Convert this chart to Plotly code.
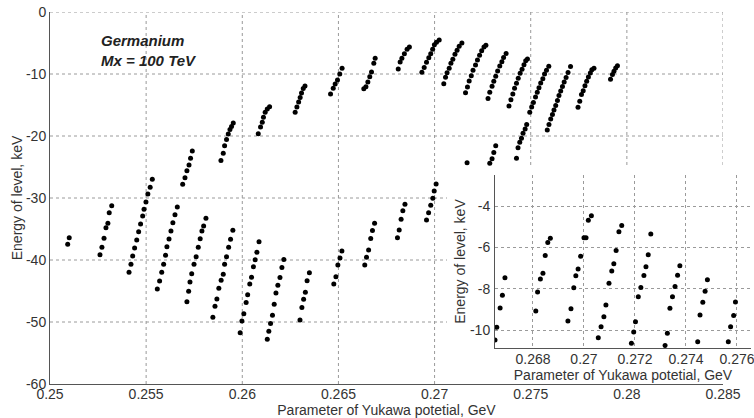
import plotly.graph_objects as go

# ---------------- main panel: visible level bands (x: GeV, y: keV) ----------------
a_x = [0.25092, 0.25100]
a_y = [-37.47, -36.40]
b_x = [0.25260, 0.25270, 0.25281, 0.25291, 0.25301, 0.25308, 0.25321]
b_y = [-39.15, -37.95, -36.50, -34.79, -34.08, -32.37, -31.24]
c_x = [0.25411, 0.25421, 0.25430, 0.25440, 0.25451, 0.25461, 0.25471, 0.25482, 0.25489, 0.25499, 0.25509, 0.25521, 0.25532]
c_y = [-41.98, -40.69, -39.35, -38.06, -36.77, -35.44, -34.19, -32.90, -31.82, -30.65, -29.35, -28.27, -26.98]
d_x = [0.25558, 0.25570, 0.25581, 0.25591, 0.25601, 0.25608, 0.25619, 0.25629, 0.25639, 0.25650, 0.25662]
d_y = [-44.68, -43.39, -41.98, -40.69, -39.24, -37.85, -36.61, -35.32, -33.98, -32.69, -31.45]
e_x = [0.25690, 0.25702, 0.25712, 0.25723, 0.25731, 0.25740]
e_y = [-27.79, -26.73, -25.60, -24.68, -23.60, -22.42]
f_x = [0.25712, 0.25721, 0.25728, 0.25737, 0.25749, 0.25760, 0.25771, 0.25781, 0.25790, 0.25799, 0.25811]
f_y = [-46.73, -45.05, -43.55, -42.21, -40.69, -39.47, -37.95, -36.56, -35.32, -34.52, -33.27]
g_x = [0.25889, 0.25901, 0.25908, 0.25918, 0.25927, 0.25936, 0.25944, 0.25953]
g_y = [-23.95, -22.79, -21.56, -20.56, -19.68, -18.95, -18.47, -17.90]
h_x = [0.25847, 0.25858, 0.25868, 0.25878, 0.25890, 0.25901, 0.25908, 0.25918, 0.25929, 0.25939, 0.25951]
h_y = [-49.23, -47.45, -46.29, -44.55, -43.27, -42.29, -40.69, -39.48, -37.95, -36.65, -35.21]
i_x = [0.26083, 0.26095, 0.26104, 0.26110, 0.26119, 0.26130, 0.26142]
i_y = [-19.63, -18.55, -17.79, -16.98, -16.18, -15.65, -15.27]
j_x = [0.25989, 0.25998, 0.26008, 0.26020, 0.26028, 0.26039, 0.26048, 0.26058, 0.26067, 0.26076, 0.26087]
j_y = [-51.73, -49.84, -48.66, -46.85, -45.60, -43.87, -42.77, -41.08, -39.97, -38.74, -37.05]
k_x = [0.26275, 0.26284, 0.26293, 0.26301, 0.26308, 0.26317, 0.26326]
k_y = [-16.18, -15.32, -14.52, -13.79, -13.06, -12.34, -11.94]
l_x = [0.26130, 0.26138, 0.26147, 0.26157, 0.26166, 0.26175, 0.26185, 0.26196, 0.26206, 0.26216]
l_y = [-52.79, -51.50, -50.24, -48.90, -47.15, -45.32, -44.08, -42.82, -41.21, -39.92]
m_x = [0.26300, 0.26310, 0.26319, 0.26328, 0.26337, 0.26349]
m_y = [-49.68, -47.66, -46.34, -45.19, -43.34, -42.06]
n_x = [0.26459, 0.26473, 0.26483, 0.26495, 0.26507, 0.26519]
n_y = [-13.23, -12.31, -11.61, -10.97, -10.00, -9.08]
o_x = [0.26632, 0.26643, 0.26653, 0.26663, 0.26672, 0.26684, 0.26691]
o_y = [-12.37, -12.05, -11.29, -10.44, -9.68, -8.27, -7.47]
p_x = [0.26811, 0.26821, 0.26830, 0.26843, 0.26857, 0.26869]
p_y = [-9.19, -8.06, -7.47, -6.74, -6.00, -5.65]
q_x = [0.26934, 0.26946, 0.26958, 0.26970, 0.26980, 0.26990, 0.26999, 0.27010, 0.27024]
q_y = [-9.71, -8.95, -8.10, -7.39, -6.74, -6.00, -5.27, -4.87, -4.52]
r_x = [0.27048, 0.27057, 0.27065, 0.27076, 0.27085, 0.27095, 0.27106, 0.27117, 0.27128, 0.27142]
r_y = [-11.56, -10.53, -9.79, -9.08, -8.27, -7.61, -6.82, -6.18, -5.53, -5.00]
s_x = [0.27161, 0.27171, 0.27180, 0.27191, 0.27200, 0.27213, 0.27223, 0.27234, 0.27245, 0.27257, 0.27267]
s_y = [-13.02, -12.10, -11.13, -10.29, -9.40, -8.55, -7.74, -6.97, -6.26, -5.65, -5.35]
t_x = [0.27278, 0.27287, 0.27299, 0.27308, 0.27318, 0.27328, 0.27339, 0.27350, 0.27359, 0.27372]
t_y = [-13.95, -12.94, -11.98, -11.16, -10.37, -9.52, -8.71, -8.02, -7.34, -6.69]
u_x = [0.27387, 0.27397, 0.27407, 0.27416, 0.27426, 0.27435, 0.27445, 0.27455, 0.27465, 0.27474, 0.27483]
u_y = [-15.16, -14.15, -13.23, -12.31, -11.50, -10.69, -9.89, -9.23, -8.50, -7.87, -7.58]
v_x = [0.27426, 0.27434, 0.27443, 0.27452, 0.27460, 0.27471, 0.27479, 0.27495, 0.27505, 0.27514,
       0.27525, 0.27534, 0.27543, 0.27552, 0.27563, 0.27572, 0.27582, 0.27594]
v_y = [-23.60, -21.89, -21.02, -20.37, -19.56, -18.87, -18.15, -16.16, -15.32, -14.60,
       -13.71, -12.94, -12.23, -11.45, -10.76, -10.00, -9.39, -8.76]
w_x = [0.27586, 0.27595, 0.27604, 0.27613, 0.27621, 0.27630, 0.27639, 0.27647, 0.27656, 0.27665, 0.27674, 0.27684, 0.27694, 0.27707]
w_y = [-19.03, -18.15, -17.26, -16.53, -15.81, -15.08, -14.27, -13.47, -12.74, -12.02, -11.29, -10.56, -9.76, -8.79]
y_x = [0.27746, 0.27755, 0.27764, 0.27773, 0.27782, 0.27791, 0.27800, 0.27810, 0.27818, 0.27829]
y_y = [-15.37, -14.39, -13.31, -12.71, -11.90, -11.18, -10.48, -9.84, -9.31, -9.08]
z_x = [0.27915, 0.27925, 0.27933, 0.27942, 0.27951]
z_y = [-10.85, -10.08, -9.56, -9.03, -8.66]
lone_x = [0.27169]
lone_y = [-24.31]
low1_x = [0.27287, 0.27299, 0.27308, 0.27318]
low1_y = [-24.40, -23.68, -22.66, -21.56]
x1_x = [0.26476, 0.26487, 0.26497, 0.26508, 0.26518]
x1_y = [-43.87, -42.69, -40.81, -39.69, -38.55]
x2_x = [0.26637, 0.26646, 0.26657, 0.26668, 0.26677, 0.26688]
x2_y = [-40.81, -39.56, -38.39, -36.53, -35.24, -34.08]
x3_x = [0.26807, 0.26816, 0.26826, 0.26835, 0.26846]
x3_y = [-36.40, -35.16, -33.42, -32.06, -31.02]
x4_x = [0.26958, 0.26969, 0.26980, 0.26991, 0.26998, 0.27008]
x4_y = [-33.55, -32.37, -31.18, -30.05, -28.88, -27.74]

# ---------------- inset panel (zoom of the upper arc) ----------------
i1_x = [0.26651, 0.26658, 0.26671, 0.26680, 0.26690]
i1_y = [-10.48, -9.87, -8.93, -8.32, -7.47]
i2_x = [0.26811, 0.26818, 0.26829, 0.26839, 0.26848, 0.26858, 0.26868]
i2_y = [-9.08, -8.16, -7.53, -7.25, -6.39, -5.77, -5.56]
i3_x = [0.26937, 0.26949, 0.26960, 0.26968, 0.26977, 0.26987, 0.27000, 0.27008, 0.27017, 0.27029]
i3_y = [-9.56, -8.97, -7.96, -7.38, -7.05, -6.43, -5.53, -5.53, -4.69, -4.47]
i4_x = [0.27056, 0.27067, 0.27078, 0.27086, 0.27098, 0.27109, 0.27117, 0.27126, 0.27137, 0.27148]
i4_y = [-10.37, -9.84, -9.36, -8.79, -7.74, -7.14, -6.79, -6.15, -5.24, -4.94]
i5_x = [0.27186, 0.27195, 0.27202, 0.27213, 0.27223, 0.27235, 0.27243, 0.27252, 0.27262]
i5_y = [-10.64, -10.10, -9.60, -8.39, -7.94, -7.36, -6.94, -6.36, -5.35]
i6_x = [0.27318, 0.27327, 0.27337, 0.27347, 0.27357, 0.27367, 0.27376]
i6_y = [-10.75, -10.16, -8.95, -8.39, -7.90, -7.35, -6.89]
i7_x = [0.27446, 0.27455, 0.27466, 0.27475, 0.27484]
i7_y = [-10.57, -9.27, -8.66, -8.13, -7.57]
i8_x = [0.27566, 0.27575, 0.27587, 0.27594]
i8_y = [-10.57, -9.84, -9.30, -8.64]

# ---------------- ticks ----------------
main_xticks = [0.25, 0.255, 0.26, 0.265, 0.27, 0.275, 0.28, 0.285]
main_xlabels = ["0.25", "0.255", "0.26", "0.265", "0.27", "0.275", "0.28", "0.285"]
main_yticks = [-60, -50, -40, -30, -20, -10, 0]
main_ylabels = ["-60", "-50", "-40", "-30", "-20", "-10", "0"]
ins_xticks = [0.268, 0.270, 0.272, 0.274, 0.276]
ins_xlabels = ["0.268", "0.27", "0.272", "0.274", "0.276"]
ins_yticks = [-10, -8, -6, -4]
ins_ylabels = ["-10", "-8", "-6", "-4"]

main_bands = [(a_x, a_y), (b_x, b_y), (c_x, c_y), (d_x, d_y), (e_x, e_y), (f_x, f_y), (g_x, g_y),
              (h_x, h_y), (i_x, i_y), (j_x, j_y), (k_x, k_y), (l_x, l_y), (m_x, m_y), (n_x, n_y),
              (o_x, o_y), (p_x, p_y), (q_x, q_y), (r_x, r_y), (s_x, s_y), (t_x, t_y), (u_x, u_y),
              (v_x, v_y), (w_x, w_y), (y_x, y_y), (z_x, z_y), (lone_x, lone_y), (low1_x, low1_y),
              (x1_x, x1_y), (x2_x, x2_y), (x3_x, x3_y), (x4_x, x4_y)]
inset_bands = [(i1_x, i1_y), (i2_x, i2_y), (i3_x, i3_y), (i4_x, i4_y),
               (i5_x, i5_y), (i6_x, i6_y), (i7_x, i7_y), (i8_x, i8_y)]

main_x = [v for bx, _ in main_bands for v in bx]
main_y = [v for _, by in main_bands for v in by]
ins_x = [v for bx, _ in inset_bands for v in bx]
ins_y = [v for _, by in inset_bands for v in by]

FONT = "Liberation Sans, Arial, sans-serif"
TXT = "#333333"
GRID = "#9a9a9a"
AXL = "#555555"

W, H = 754, 418
ML, MR, MT, MB = 50, 0, 12, 34
PW, PH = W - ML - MR, H - MT - MB
main_dom_x = [0, 673 / PW]
ins_dom_x = [(495 - ML) / PW, (751 - ML) / PW]
ins_dom_y = [(H - MB - 348) / PH, (H - MB - 175) / PH]
main_xr = [0.25, 0.285]
main_yr = [-60, 0]

fig = go.Figure()
fig.add_trace(go.Scatter(x=main_x, y=main_y, mode="markers", xaxis="x", yaxis="y",
                         marker=dict(color="black", size=5), showlegend=False, hoverinfo="skip"))
fig.add_trace(go.Scatter(x=ins_x, y=ins_y, mode="markers", xaxis="x2", yaxis="y2",
                         marker=dict(color="black", size=5), showlegend=False, hoverinfo="skip"))

# main grid drawn as segments that stop at the inset's white box (incl. its labels)
box_left_paper = (447 - ML) / PW
box_top_paper = (H - MB - 165) / PH
x_cut = main_xr[0] + box_left_paper / main_dom_x[1] * (main_xr[1] - main_xr[0])
y_cut = main_yr[0] + box_top_paper * (main_yr[1] - main_yr[0])
shapes = []
gl = dict(color=GRID, width=1, dash="dot")
for xv in main_xticks[1:]:
    y0 = main_yr[0] if xv < x_cut else y_cut
    shapes.append(dict(type="line", xref="x", yref="y", x0=xv, x1=xv, y0=y0, y1=main_yr[1],
                       line=gl, layer="below"))
for yv in main_yticks[1:]:
    x1 = main_xr[1] if yv > y_cut else x_cut
    shapes.append(dict(type="line", xref="x", yref="y", x0=main_xr[0], x1=x1, y0=yv, y1=yv,
                       line=gl, layer="below"))

tickfont = dict(family=FONT, size=14, color=TXT)
titlefont = dict(family=FONT, size=14, color=TXT)
common = dict(zeroline=False, showline=True, linecolor=AXL, linewidth=1, ticks="", ticklen=0,
              tickfont=tickfont, automargin=False, ticklabeloverflow="allow")

fig.update_layout(
    width=W, height=H,
    margin=dict(l=ML, r=MR, t=MT, b=MB, pad=0, autoexpand=False),
    paper_bgcolor="white", plot_bgcolor="white",
    font=dict(family=FONT, size=14, color=TXT),
    shapes=shapes,
    xaxis=dict(domain=main_dom_x, range=main_xr, anchor="y", tickvals=main_xticks, ticktext=main_xlabels,
               showgrid=False, ticklabelstandoff=-3,
               title=dict(text="Parameter of Yukawa potetial, GeV", font=titlefont, standoff=2), **common),
    yaxis=dict(domain=[0, 1], range=main_yr, anchor="x", tickvals=main_yticks, ticktext=main_ylabels,
               showgrid=False, ticklabelstandoff=0,
               title=dict(text="Energy of level, keV", font=titlefont, standoff=0), **common),
    xaxis2=dict(domain=ins_dom_x, range=[0.26651, 0.27655], anchor="y2", tickvals=ins_xticks,
                ticktext=ins_xlabels, showgrid=True, gridcolor=GRID, griddash="dot", gridwidth=1,
                ticklabelstandoff=-2,
                title=dict(text="Parameter of Yukawa potetial, GeV", font=titlefont, standoff=0), **common),
    yaxis2=dict(domain=ins_dom_y, range=[-10.87, -2.5], anchor="x2", tickvals=ins_yticks,
                ticktext=ins_ylabels, showgrid=True, gridcolor=GRID, griddash="dot", gridwidth=1,
                ticklabelstandoff=1,
                title=dict(text="Energy of level, keV", font=titlefont, standoff=1), **common),
    annotations=[dict(text="<b><i>Germanium<br>Mx = 100 TeV</i></b>", xref="paper", yref="paper",
                      x=(100 - ML) / PW, y=(H - MB - 31) / PH, xanchor="left", yanchor="top",
                      align="left", showarrow=False, borderpad=0,
                      font=dict(family=FONT, size=15, color="#222222"))],
)

fig.write_html("out.html", config={"displayModeBar": False},
               post_script="document.body.style.margin='0';document.body.style.overflow='hidden';")
